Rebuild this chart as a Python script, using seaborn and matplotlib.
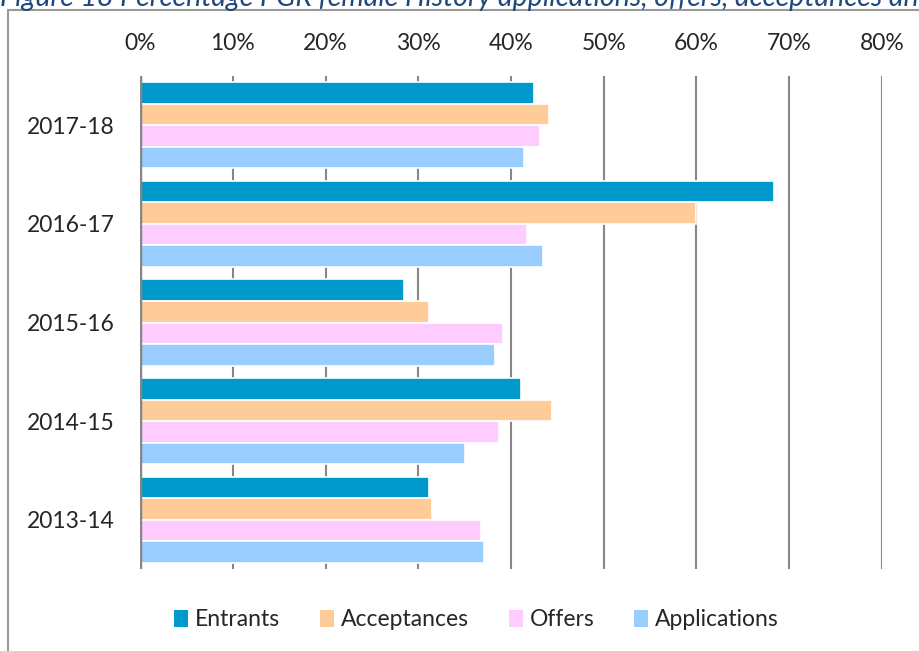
import pandas as pd
import numpy as np
import matplotlib
matplotlib.use("Agg")
import matplotlib.pyplot as plt
from matplotlib.lines import Line2D
from matplotlib.patches import Patch
import seaborn as sns

# Data
# ==================================================
years = ["2017-18", "2016-17", "2015-16", "2014-15", "2013-14"]
series = ["Entrants", "Acceptances", "Offers", "Applications"]
entrants = [42.5, 68.4, 28.5, 41.1, 31.2]
acceptances = [44.1, 60.0, 31.2, 44.4, 31.5]
offers = [43.1, 41.7, 39.1, 38.7, 36.8]
applications = [41.4, 43.5, 38.3, 35.0, 37.1]
tick_vals = [0, 10, 20, 30, 40, 50, 60, 70, 80]
tick_labels = ["0%", "10%", "20%", "30%", "40%", "50%", "60%", "70%", "80%"]
colors = ["#0099CC", "#FFCC99", "#FFCCFF", "#99CCFF"]

df = pd.DataFrame({"year": years, "Entrants": entrants, "Acceptances": acceptances,
                   "Offers": offers, "Applications": applications})
df = df.melt(id_vars="year", var_name="series", value_name="pct")

sns.set_style("white")
plt.rcParams["font.family"] = ["Lato", "DejaVu Sans"]

fig = plt.figure(figsize=(9.2, 6.51), dpi=100)
ax = fig.add_axes([140 / 920, 1 - 569 / 651, 742 / 920, 493 / 651])

sns.barplot(data=df, y="year", x="pct", hue="series", order=years, hue_order=series,
            palette=colors, saturation=1, orient="h", width=0.875, edgecolor="white",
            linewidth=1.2, ax=ax, legend=False, zorder=3)

ax.set_xlim(0, 80)
ax.set_xticks(tick_vals)
ax.set_xticklabels(tick_labels, fontsize=16.5)
ax.xaxis.tick_top()
ax.tick_params(axis="x", length=0, pad=16)
ax.tick_params(axis="y", length=0, pad=18, labelsize=16.5)
ax.set_xlabel("")
ax.set_ylabel("")
ax.grid(axis="x", color="#878787", linewidth=1.5, zorder=0)
ax.set_axisbelow(True)
for s in ax.spines.values():
    s.set_visible(False)
ax.axvline(0, color="#878787", linewidth=2.5, zorder=4)

# Legend
handles = [Patch(facecolor=c, edgecolor="none") for c in colors]
fig.legend(handles, series, loc="center", bbox_to_anchor=(0.518, 1 - 620 / 651), ncol=4,
           frameon=False, fontsize=16.5, handlelength=0.6, handleheight=0.8,
           handletextpad=0.3, columnspacing=1.75)

# Outer chart frame (left and top edges only visible)
fig.add_artist(Line2D([8 / 920, 8 / 920], [0, 1 - 10 / 651], transform=fig.transFigure,
                      color="#9A9A9A", linewidth=1.5))
fig.add_artist(Line2D([8 / 920, 1], [1 - 10 / 651, 1 - 10 / 651], transform=fig.transFigure,
                      color="#9A9A9A", linewidth=1.5))

# Title, clipped at the top of the picture
fig.text(0, 1 - 6 / 651, "Figure 18 Percentage PGR female History applications, offers, acceptances and entrants",
         fontsize=20.5, style="italic", color="#1F497D", va="baseline", ha="left")

plt.savefig("out.png", dpi=100)
